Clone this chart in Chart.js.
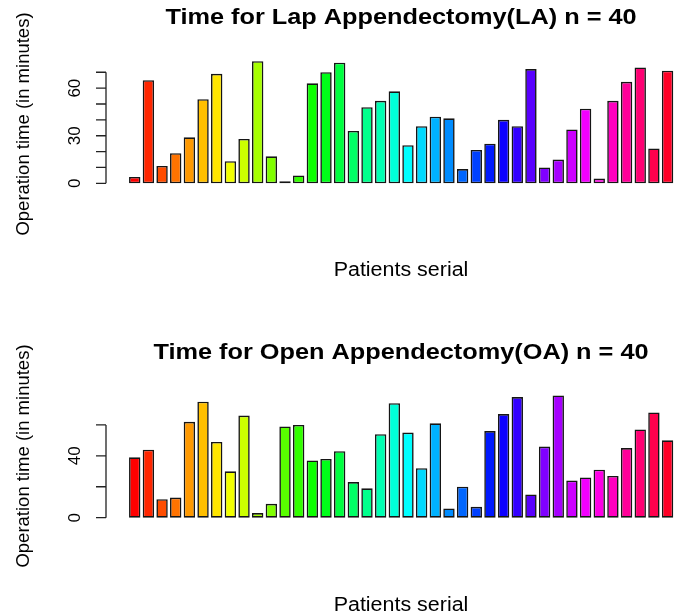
<!DOCTYPE html>
<html>
<head>
<meta charset="utf-8">
<script src="https://cdn.jsdelivr.net/npm/chart.js@4.4.1/dist/chart.umd.min.js"></script>
<style>
  html, body { margin: 0; padding: 0; background: #fff; overflow: hidden; }
  .panel { position: absolute; left: 0; width: 685px; }
  #p1 { top: 0; height: 300px; }
  #p2 { top: 335px; height: 280px; }
</style>
</head>
<body>
<div class="panel" id="p1"><canvas id="la" width="685" height="300"></canvas></div>
<div class="panel" id="p2"><canvas id="oa" width="685" height="280"></canvas></div>
<script>
// patient serial numbers (x categories)
const patients = ['1','2','3','4','5','6','7','8','9','10','11','12','13','14','15','16','17','18','19','20',
                  '21','22','23','24','25','26','27','28','29','30','31','32','33','34','35','36','37','38','39','40'];

// operation times in minutes
const lapTimes  = [4, 65, 11, 19, 29, 53, 69, 14, 28, 77, 17, 1.3, 5, 63, 70, 76, 33, 48, 52, 58,
                   24, 36, 42, 41, 9, 21, 25, 40, 36, 72, 10, 15, 34, 47, 3, 52, 64, 73, 22, 71];
const openTimes = [39, 44, 12, 13, 62, 75, 49, 30, 66, 3, 9, 59, 60, 37, 38, 43, 23, 19, 54, 74,
                   55, 32, 61, 6, 20, 7, 56, 67, 78, 15, 46, 79, 24, 26, 31, 27, 45, 57, 68, 50];

// axis ticks and which of them carry a label
const lapTicks   = [0, 10, 20, 30, 40, 50, 60, 70];
const lapLabels  = [0, 30, 60];
const openTicks  = [0, 20, 40, 60];
const openLabels = [0, 40];

const yTitle = 'Operation time (in minutes)';
const xTitle = 'Patients serial';

// R's rainbow(40): full saturation hues
const rainbow = patients.map((_, i) => `hsl(${(i * 360 / patients.length).toFixed(2)}, 100%, 50%)`);

const FONT = '"Liberation Sans", Arial, Helvetica, sans-serif';

function hText(ctx, s, x, y, font, sx){
  ctx.save();
  ctx.font = font;
  ctx.textAlign = 'center';
  ctx.textBaseline = 'alphabetic';
  ctx.translate(x, y);
  ctx.scale(sx, 1);
  ctx.fillText(s, 0, 0);
  ctx.restore();
}

function vText(ctx, s, x, y, font){
  ctx.save();
  ctx.font = font;
  ctx.textAlign = 'center';
  ctx.textBaseline = 'alphabetic';
  ctx.translate(x, y);
  ctx.rotate(-Math.PI / 2);
  ctx.fillText(s, 0, 0);
  ctx.restore();
}

// base-graphics style axis, titles and labels
const rAxes = {
  id: 'rAxes',
  afterDraw(chart, args, o){
    const ctx = chart.ctx, y = chart.scales.y;
    ctx.save();
    ctx.fillStyle = '#000';
    ctx.strokeStyle = '#222';
    ctx.lineWidth = 1.3;

    const ax = o.axisX;
    const top = y.getPixelForValue(o.ticks[o.ticks.length - 1]);
    const bot = y.getPixelForValue(o.ticks[0]);
    ctx.beginPath();
    ctx.moveTo(ax, top); ctx.lineTo(ax, bot);
    o.ticks.forEach(t => {
      const py = y.getPixelForValue(t);
      ctx.moveTo(ax - 10, py); ctx.lineTo(ax, py);
    });
    ctx.stroke();

    o.labels.forEach(t => vText(ctx, String(t), ax - 26, y.getPixelForValue(t), `17px ${FONT}`));

    hText(ctx, o.title, o.cx, 24, `bold 22px ${FONT}`, 1.15);
    hText(ctx, xTitle, o.cx, 276, `19.5px ${FONT}`, 1.1);
    vText(ctx, yTitle, 29, o.yTitleY, `18.5px ${FONT}`);
    ctx.restore();
  }
};

function makeChart(id, values, cfg){
  const canvas = document.getElementById(id);
  return new Chart(canvas, {
    type: 'bar',
    data: {
      labels: patients,
      datasets: [{
        data: values,
        backgroundColor: rainbow,
        borderColor: '#151515',
        borderWidth: 1.6,
        borderSkipped: false,
        barPercentage: 1 / 1.2,
        categoryPercentage: 1
      }]
    },
    options: {
      responsive: false,
      animation: false,
      events: [],
      layout: { padding: { left: 127.9, right: 10.6, top: cfg.areaTop, bottom: canvas.height - cfg.areaBottom } },
      scales: {
        x: { display: false },
        y: { display: false, min: cfg.yMin, max: cfg.yMax }
      },
      plugins: {
        legend: { display: false },
        tooltip: { enabled: false },
        rAxes: { axisX: 106, cx: 401, title: cfg.title, ticks: cfg.ticks, labels: cfg.labels, yTitleY: cfg.yTitleY }
      }
    },
    plugins: [rAxes]
  });
}

makeChart('la', lapTimes, {
  title: 'Time for Lap Appendectomy(LA) n = 40',
  ticks: lapTicks, labels: lapLabels,
  yMin: -3, yMax: 80, areaTop: 56.4, areaBottom: 188.1, yTitleY: 124
});

makeChart('oa', openTimes, {
  title: 'Time for Open Appendectomy(OA) n = 40',
  ticks: openTicks, labels: openLabels,
  yMin: -3.2, yMax: 82, areaTop: 55.85, areaBottom: 187.65, yTitleY: 121
});
</script>
</body>
</html>
